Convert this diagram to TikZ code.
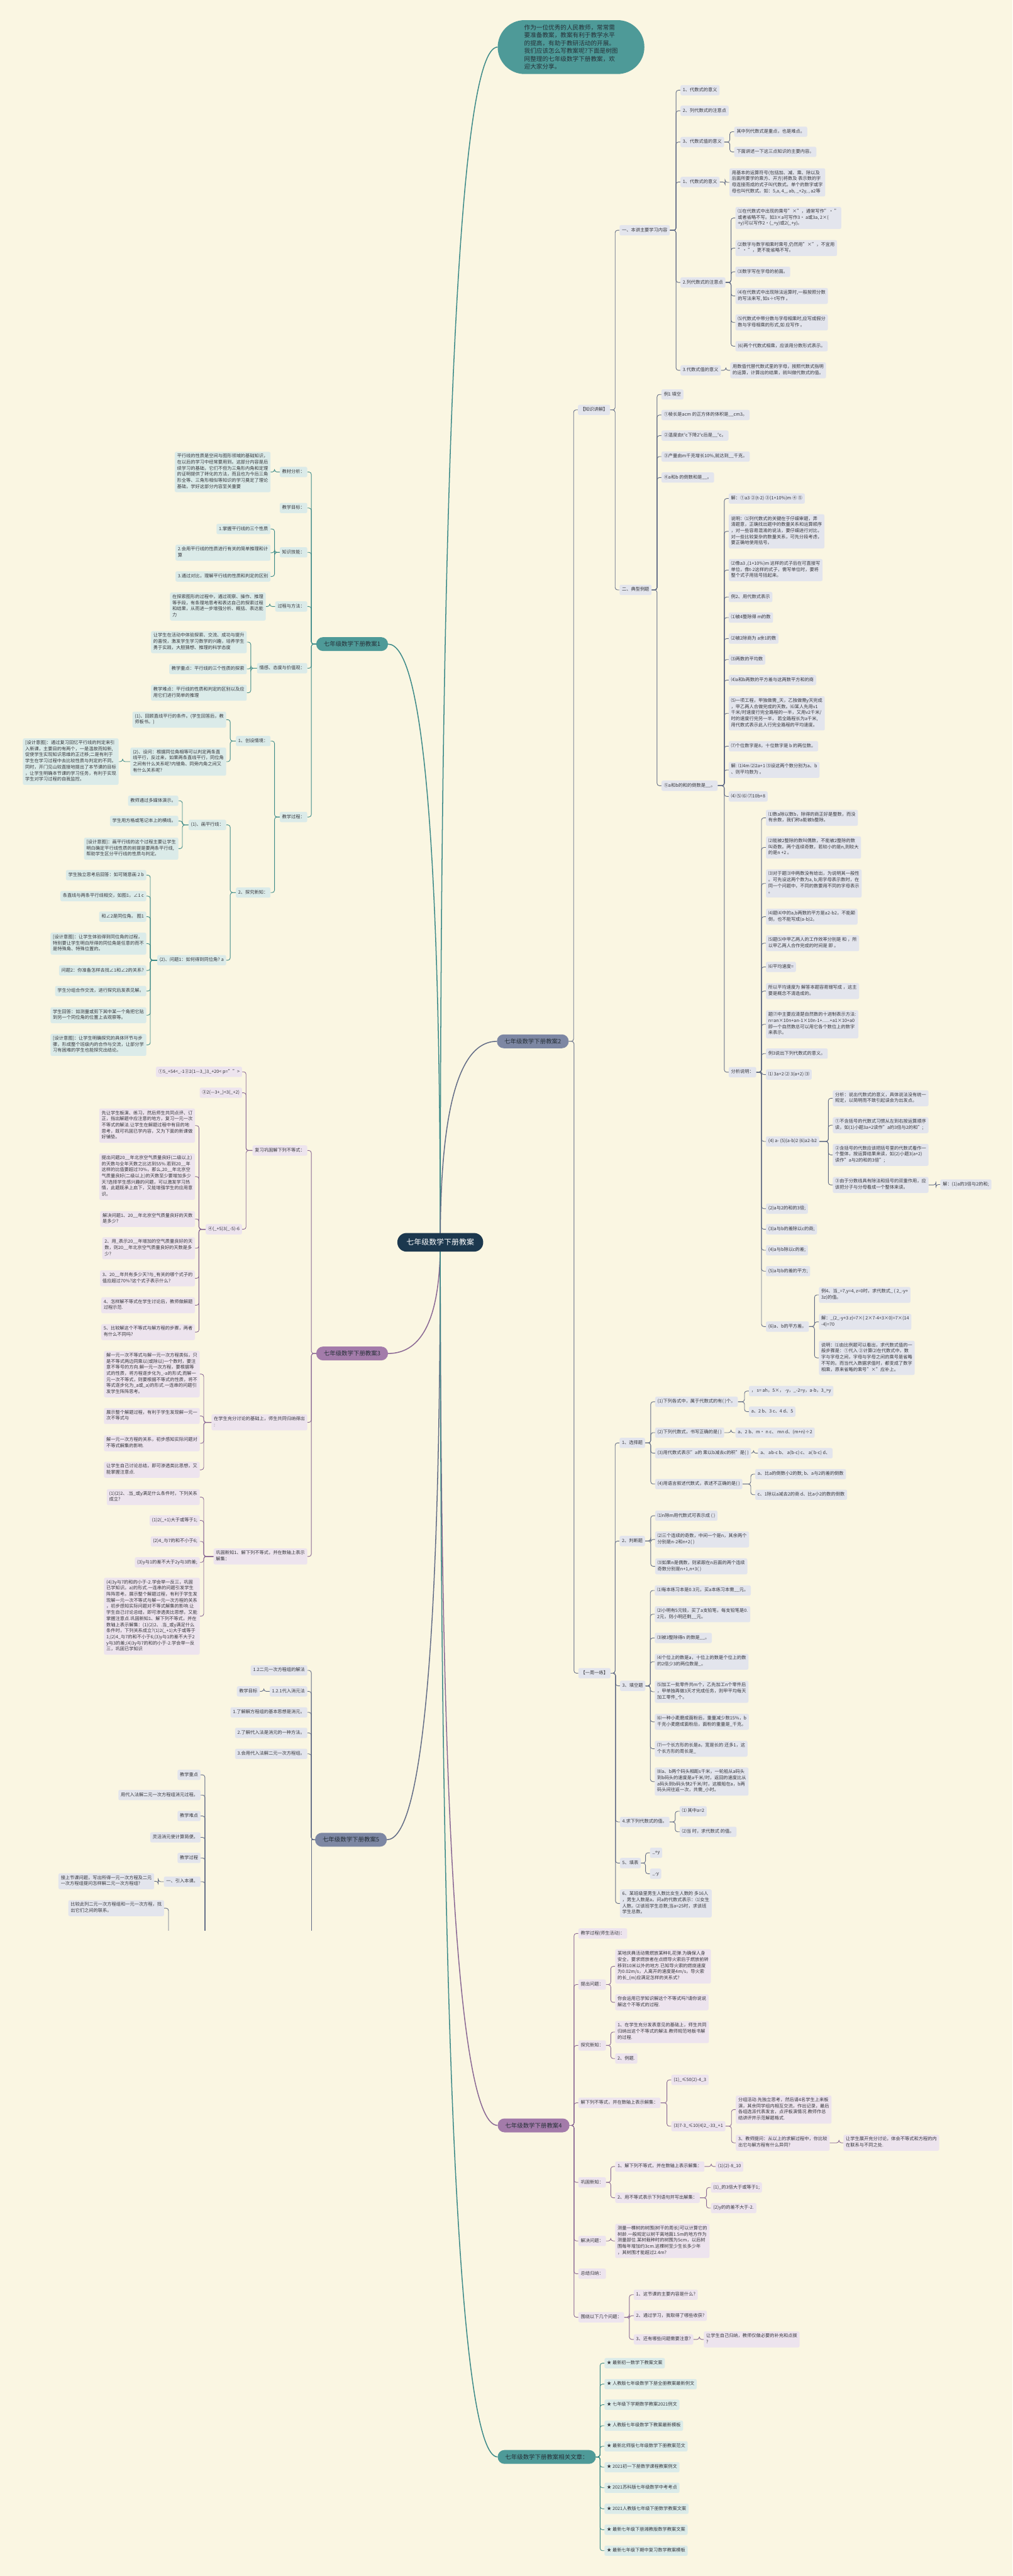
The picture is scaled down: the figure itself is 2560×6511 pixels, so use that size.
\documentclass[tikz,border=0pt]{standalone}
\usepackage{fontspec}
\setmainfont{Noto Sans CJK SC}
\usetikzlibrary{calc}
\definecolor{bgc}{RGB}{250,246,226}
\definecolor{navy}{RGB}{28,56,78}
\definecolor{tealB}{RGB}{78,154,152}
\definecolor{tealL}{RGB}{219,235,233}
\definecolor{tealE}{RGB}{60,138,136}
\definecolor{greyB}{RGB}{125,135,163}
\definecolor{greyL}{RGB}{227,229,237}
\definecolor{greyE}{RGB}{98,108,134}
\definecolor{purB}{RGB}{163,123,170}
\definecolor{purL}{RGB}{237,228,238}
\definecolor{purE}{RGB}{138,104,148}
\definecolor{txt}{RGB}{55,55,60}
\definecolor{btxt}{RGB}{38,48,56}
\pgfdeclarelayer{back}
\pgfdeclarelayer{lines}
\pgfsetlayers{back,lines,main}
\newcommand\linkR[3]{\draw[#1] let \p1=(#2.east), \p2=(#3.west) in (\p1) -- (\x2-11pt,\y1) |- (\p2);}
\newcommand\linkL[3]{\draw[#1] let \p1=(#2.west), \p2=(#3.east) in (\p1) -- (\x2+10pt,\y1) |- (\p2);}
\newcommand\mcurve[3]{\draw[#1] (#2.center) .. controls ($(#2.center)!0.667!(#2.center|-#3)$) and ($(#3)!0.667!(#2.center|-#3)$) .. (#3);}
\begin{document}
\begin{tikzpicture}[x=1pt,y=-1pt,
 leaf/.style={rounded corners=4pt, inner xsep=6pt, inner ysep=5.3pt, font=\fontsize{11.5}{15.4}\selectfont, text=txt, align=left, execute at begin node=\strut, execute at end node=\strut},
 lt/.style={leaf, fill=tealL}, lg/.style={leaf, fill=greyL}, lp/.style={leaf, fill=purL},
 branch/.style={rounded corners=17pt, minimum height=35pt, inner ysep=0pt, inner xsep=19pt, font=\fontsize{15}{18}\selectfont, text=btxt},
 bT/.style={branch, fill=tealB}, bG/.style={branch, fill=greyB}, bP/.style={branch, fill=purB},
 lkT/.style={draw=tealE, line width=1.4pt, rounded corners=6pt},
 lkG/.style={draw=greyE, line width=1.4pt, rounded corners=6pt},
 lkP/.style={draw=purE, line width=1.4pt, rounded corners=6pt},
 mT/.style={draw=tealE, line width=2.4pt},
 mG/.style={draw=greyE, line width=2.4pt},
 mP/.style={draw=purE, line width=2.4pt}]
\begin{pgfonlayer}{back}
\fill[bgc] (0,0) rectangle (2560,6511);
\end{pgfonlayer}
\useasboundingbox (0,0) rectangle (2560,6511);

% ---------- centre, note, branches
\node[fill=navy, text=white, rounded corners=23pt, minimum height=47pt, inner xsep=23pt, inner ysep=0pt, font=\fontsize{19}{22}\selectfont] (ctr) at (1113,3140) {七年级数学下册教案};
\node[fill=tealB, text=btxt, rounded corners=68pt, inner xsep=67pt, inner ysep=11pt, align=left, font=\fontsize{15.3}{20}\selectfont, anchor=west] (note) at (1258,119) {作为一位优秀的人民教师，常常需\\要准备教案，教案有利于教学水平\\的提高，有助于教研活动的开展。\\我们应该怎么写教案呢?下面是树图\\网整理的七年级数学下册教案，欢\\迎大家分享。};
\node[bT, anchor=east] (b1) at (981,1628) {七年级数学下册教案1};
\node[bG, anchor=west] (b2) at (1256,2632) {七年级数学下册教案2};
\node[bP, anchor=east] (b3) at (981,3421) {七年级数学下册教案3};
\node[bP, anchor=west] (b4) at (1258,5372) {七年级数学下册教案4};
\node[bG, anchor=east] (b5) at (978,4650) {七年级数学下册教案5};
\node[bT, anchor=west] (b6) at (1258,6210) {七年级数学下册教案相关文章：};

% ---------- 教案2
\node[lg,anchor=west] (zs) at (1461,1036) {【知识讲解】};
\node[lg,anchor=west] (yz) at (1462,4229) {【一周一练】};
\node[lg,anchor=west] (k1) at (1566,582) {一、本讲主要学习内容};
\node[lg,anchor=west] (k2) at (1566,1491) {二、典型例题};
\node[lg,anchor=west] (k1a) at (1720,228) {1、代数式的意义};
\node[lg,anchor=west] (k1b) at (1720,280) {2、列代数式的注意点};
\node[lg,anchor=west] (k1c) at (1720,359) {3、代数式值的意义};
\node[lg,anchor=west] (k1c1) at (1856,333) {其中列代数式是重点，也是难点。};
\node[lg,anchor=west] (k1c2) at (1856,384) {下面讲述一下这三点知识的主要内容。};
\node[lg,anchor=west] (k1d) at (1720,460) {1、代数式的意义};
\node[lg,anchor=west] (k1d1) at (1844,461) {用基本的运算符号(包括加、减、乘、除以及\\后面所要学的乘方、开方)将数及 表示数的字\\母连接而成的式子叫代数式。单个的数字或字\\母也叫代数式。如：5,a, 4\_, ab, \_+2y, , a2等};
\node[lg,anchor=west] (k1e) at (1720,714) {2.列代数式的注意点};
\node[lg,anchor=west] (k1e1) at (1859,551) {⑴在代数式中出现的乘号"×"，通常写作"· "\\或者省略不写。如3×a可写作3· a或3a, 2×(\\+y)可以写作2·(\_+y)或2(\_+y)。};
\node[lg,anchor=west] (k1e2) at (1859,627) {⑵数字与数字相乘时乘号,仍然用"×"，不宜用\\"· "，更不能省略不写。};
\node[lg,anchor=west] (k1e3) at (1859,687) {⑶数字写在字母的前面。};
\node[lg,anchor=west] (k1e4) at (1859,748) {⑷在代数式中出现除法运算时,一般按照分数\\的写法来写, 如s÷t写作 。};
\node[lg,anchor=west] (k1e5) at (1859,815) {⑸代数式中带分数与字母相乘时,应写成假分\\数与字母相乘的形式,如 应写作 。};
\node[lg,anchor=west] (k1e6) at (1859,875) {(6)两个代数式相乘，应该用分数形式表示。};
\node[lg,anchor=west] (k1f) at (1720,936) {3.代数式值的意义};
\node[lg,anchor=west] (k1f1) at (1846,936) {用数值代替代数式里的字母，按照代数式指明\\的运算，计算出的结果，就叫做代数式的值。};

\node[lg,anchor=west] (k2a) at (1672,997) {例1 填空};
\node[lg,anchor=west] (k2b) at (1672,1049) {①棱长是acm 的正方体的体积是\_\_cm3。};
\node[lg,anchor=west] (k2c) at (1672,1101) {②温度由t°c下降2°c后是\_\_°c。};
\node[lg,anchor=west] (k2d) at (1672,1154) {③产量由m千克增长10\%,就达到\_\_千克。};
\node[lg,anchor=west] (k2e) at (1672,1207) {④a和b 的倒数和是\_\_。};
\node[lg,anchor=west] (k2f) at (1672,1986) {⑤a和b的和的倒数是\_\_。};

\node[lg,anchor=west] (f1) at (1842,1260) {解：①a3 ②(t-2) ③(1+10\%)m ④ ⑤};
\node[lg,anchor=west] (f2) at (1842,1343) {说明：⑴列代数式的关键在于仔细审题，弄\\清题意，正确找出题中的数量关系和运算顺序\\，对一些容易混淆的说法，要仔细进行对比，\\对一些比较复杂的数量关系，可先分段考虑，\\要正确地使用括号。};
\node[lg,anchor=west] (f3) at (1842,1441) {⑵像a3 ,(1+10\%)m 这样的式子后在可直接写\\单位，像t-2这样的式子，需写单位时，要将\\整个式子用括号括起来。};
\node[lg,anchor=west] (f4) at (1842,1509) {例2、用代数式表示};
\node[lg,anchor=west] (f5) at (1842,1561) {⑴被4整除得 m的数};
\node[lg,anchor=west] (f6) at (1842,1614) {⑵被2除商为 a余1的数};
\node[lg,anchor=west] (f7) at (1842,1667) {⑶两数的平均数};
\node[lg,anchor=west] (f8) at (1842,1719) {⑷a和b两数的平方差与这两数平方和的商};
\node[lg,anchor=west] (f9) at (1842,1803) {⑸一项工程，甲独做需\_天，乙独做需y天完成\\，甲乙两人合做完成的天数。⑹某人先用v1\\千米/时速度行完全路程的一半，又用v2千米/\\时的速度行完另一半， 若全路程长为a千米,\\用代数式表示此人行完全路程的平均速度。};
\node[lg,anchor=west] (f10) at (1842,1886) {⑺个位数字是8，十位数字是 b 的两位数。};
\node[lg,anchor=west] (f11) at (1842,1946) {解: ⑴4m ⑵2a+1 ⑶设这两个数分别为a、b\\、则平均数为 。};
\node[lg,anchor=west] (f12) at (1842,2013) {⑷ ⑸ ⑹ ⑺10b+8};
\node[lg,anchor=west] (f13) at (1842,2710) {分析说明：};

\node[lg,anchor=west] (g1) at (1936,2067) {⑴数a除以数b，除得的商正好是整数，而没\\有余数，我们称a能被b整除。};
\node[lg,anchor=west] (g2) at (1936,2142) {⑵能被2整除的数叫偶数，不能被2整除的数\\叫奇数。两个连续奇数，若较小的是n,则较大\\的是n +2 。};
\node[lg,anchor=west] (g3) at (1936,2233) {⑶对于题⑶中两数没有给出，为说明其一般性\\。可先设这两个数为a, b;用字母表示数时，在\\同一个问题中，不同的数要用不同的字母表示\\。};
\node[lg,anchor=west] (g4) at (1936,2317) {⑷题⑷中的a,b两数的平方是a2-b2，不能颠\\倒，也不能写成(a-b)2。};
\node[lg,anchor=west] (g5) at (1936,2384) {⑸题⑸中甲乙两人的工作效率分别是 和 ，所\\以甲乙两人合作完成的时间是 即 。};
\node[lg,anchor=west] (g6) at (1936,2444) {⑹平均速度=};
\node[lg,anchor=west] (g7) at (1936,2505) {所以平均速度为 解答本题容易错写成 ，这主\\要是概念不清造成的。};
\node[lg,anchor=west] (g8) at (1936,2589) {题⑺中主要应清楚自然数的十进制表示方法:\\ n=an×10n+an-1×10n-1+......+a1×10+a0\\ 即一个自然数总可以用它各个数位上的数字\\来表示。};
\node[lg,anchor=west] (g9) at (1936,2663) {例3说出下列代数式的意义。};
\node[lg,anchor=west] (g10) at (1936,2716) {⑴ 3a+2 ⑵ 3(a+2) ⑶};
\node[lg,anchor=west] (g11) at (1936,2885) {(4) a- (5)(a-b)2 (6)a2-b2};
\node[lg,anchor=west] (h1) at (2105,2776) {分析：说出代数式的意义，具体说法没有统一\\规定，以简明而不致引起误会为出发点。};
\node[lg,anchor=west] (h2) at (2105,2844) {①不含括号的代数式习惯从左到右按运算顺序\\读，如(1)小题3a+2读作"a的3倍与2的和";};
\node[lg,anchor=west] (h3) at (2105,2919) {②含括号的代数应该把括号里的代数式看作一\\个整体，按运算结果来读，如(2)小题3(a+2)\\读作"a与2的和的3倍";};
\node[lg,anchor=west] (h4) at (2105,2995) {③由于分数线具有除法和括号的双重作用，应\\该把分子与分母看成一个整体来读。};
\node[lg,anchor=west] (h4a) at (2377,2994) {解：(1)a的3倍与2的和;};
\node[lg,anchor=west] (g12) at (1936,3055) {(2)a与2的和的3倍;};
\node[lg,anchor=west] (g13) at (1936,3107) {(3)a与b的差除以c的商;};
\node[lg,anchor=west] (g14) at (1936,3160) {(4)a与b除以c的差;};
\node[lg,anchor=west] (g15) at (1936,3213) {(5)a与b的差的平方;};
\node[lg,anchor=west] (g16) at (1936,3353) {(6)a、b的平方差。};
\node[lg,anchor=west] (i1) at (2070,3273) {例4、当\_=7,y=4, z=0时，求代数式\_ ( 2\_-y+\\3z)的值。};
\node[lg,anchor=west] (i2) at (2070,3341) {解：\_(2\_-y+3 z)=7×( 2×7-4+3×0)=7×(14\\-4)=70};
\node[lg,anchor=west] (i3) at (2070,3432) {说明：⑴由比例题可以看出，求代数式值的一\\般步骤是：①代入 ②计算⑵在代数式中，数\\字与字母之间，字母与字母之间的乘号是省略\\不写的。而当代入数据求值时，都变成了数字\\相乘，原来省略的乘号"×"应补上。};

\node[lg,anchor=west] (y1) at (1566,3647) {1、选择题};
\node[lg,anchor=west] (y1a) at (1656,3543) {(1)下列各式中，属于代数式的有( )个。};
\node[lg,anchor=west] (y1a1) at (1893,3516) {， s= ah，5×， -y，\_-2=y，a-b，3\_>y};
\node[lg,anchor=west] (y1a2) at (1893,3568) {a、2 b、3 c、4 d、5};
\node[lg,anchor=west] (y1b) at (1656,3621) {(2)下列代数式，书写正确的是( )};
\node[lg,anchor=west] (y1b1) at (1859,3621) {a、2 b、m· n c、 mn d、(m+n)÷2};
\node[lg,anchor=west] (y1c) at (1656,3673) {(3)用代数式表示"a的 乘以b减去c的积"是( )};
\node[lg,anchor=west] (y1c1) at (1916,3673) {a、 ab-c b、 a(b-c) c、 a( b-c) d、};
\node[lg,anchor=west] (y1d) at (1656,3751) {(4)用语言叙述代数式，表述不正确的是( )};
\node[lg,anchor=west] (y1d1) at (1909,3726) {a、比a的倒数小2的数; b、a与2的差的倒数};
\node[lg,anchor=west] (y1d2) at (1909,3778) {c、1除以a减去2的商 d、比a小2的数的倒数};
\node[lg,anchor=west] (y2) at (1566,3895) {2、判断题};
\node[lg,anchor=west] (y2a) at (1656,3831) {⑴n除m用代数式可表示成 ( )};
\node[lg,anchor=west] (y2b) at (1656,3891) {⑵三个连续的奇数，中间一个是n，其余两个\\分别是n-2和n+2( )};
\node[lg,anchor=west] (y2c) at (1656,3959) {⑶如果n是偶数，则紧跟在n后面的两个连续\\奇数分别是n+1,n+3( )};
\node[lg,anchor=west] (y3) at (1567,4261) {3、填空题};
\node[lg,anchor=west] (y3a) at (1655,4020) {⑴每本练习本是0.3元，买a本练习本需\_\_元。};
\node[lg,anchor=west] (y3b) at (1655,4080) {⑵小明有5元钱，买了a支铅笔，每支铅笔是0.\\2元，则小明还剩\_\_元。};
\node[lg,anchor=west] (y3c) at (1655,4140) {⑶被3整除得n 的数是\_\_。};
\node[lg,anchor=west] (y3d) at (1655,4200) {⑷个位上的数是a，十位上的数是个位上的数\\的2倍少3的两位数是\_。};
\node[lg,anchor=west] (y3e) at (1655,4276) {⑸加工一批零件共m个，乙先加工n个零件后\\，甲单独再做3天才完成任务，则甲平均每天\\加工零件\_个。};
\node[lg,anchor=west] (y3f) at (1655,4352) {⑹一种小麦磨成面粉后，重量减少数15\%，b\\千克小麦磨成面粉后，面粉的重量是\_千克。};
\node[lg,anchor=west] (y3g) at (1655,4420) {⑺一个长方形的长是a，宽是长的 还多1，这\\个长方形的周长是\_};
\node[lg,anchor=west] (y3h) at (1655,4503) {⑻a、b两个码头相距s千米，一轮船从a码头\\到b码头的速度是a千米/时，返回的速度比从\\a码头到b码头快2千米/时，这艘船在a，b两\\码头间往返一次，共需\_小时。};
\node[lg,anchor=west] (y4) at (1567,4605) {4.求下列代数式的值。};
\node[lg,anchor=west] (y4a) at (1718,4578) {⑴ 其中a=2};
\node[lg,anchor=west] (y4b) at (1718,4630) {⑵当 时，求代数式 的值。};
\node[lg,anchor=west] (y5) at (1567,4709) {5、填表};
\node[lg,anchor=west] (y5a) at (1643,4683) {\_+y};
\node[lg,anchor=west] (y5b) at (1643,4736) {\_-y};
\node[lg,anchor=west] (y6) at (1567,4811) {6、某班级里男生人数比女生人数的 多16人\\，男生人数是a，问a的代数式表示：⑴女生\\人数。⑵该班学生总数;当a=25时，求该班\\学生总数。};

% ---------- 教案4
\node[lp,anchor=west] (r1) at (1462,4887) {教学过程(师生活动)：};
\node[lp,anchor=west] (r2) at (1462,5016) {提出问题：};
\node[lp,anchor=west] (r2a) at (1555,4970) {某地庆典活动需燃放某种礼花弹.为确保人身\\安全，要求燃放者在点燃导火索后于燃放前转\\移到10米以外的地方.已知导火索的燃烧速度\\为0.02m/s，人离开的速度是4m/s，导火索\\的长\_(m)应满足怎样的关系式?};
\node[lp,anchor=west] (r2b) at (1555,5061) {你会运用已学知识解这个不等式吗?请你说说\\解这个不等式的过程.};
\node[lp,anchor=west] (r3) at (1462,5170) {探究新知：};
\node[lp,anchor=west] (r3a) at (1555,5136) {1、在学生充分发表意见的基础上，师生共同\\归纳出这个不等式的解法.教师规范地板书解\\的过程.};
\node[lp,anchor=west] (r3b) at (1555,5203) {2、例题.};
\node[lp,anchor=west] (r4) at (1462,5315) {解下列不等式，并在数轴上表示解集：};
\node[lp,anchor=west] (r4a) at (1697,5257) {(1)\_≤50(2)-4\_3};
\node[lp,anchor=west] (r4b) at (1697,5374) {(3)7-3\_≤10(4)2\_-33\_+1};
\node[lp,anchor=west] (r4b1) at (1860,5332) {分组活动.先独立思考，然后请4名学生上来板\\演，其余同学组内相互交流，作出记录，最后\\各组选派代表发言，点评板演情况.教师作总\\结讲评并示范解题格式.};
\node[lp,anchor=west] (r4b2) at (1860,5416) {3、教师提问：从以上的求解过程中，你比较\\出它与解方程有什么异同?};
\node[lp,anchor=west] (r4b2a) at (2132,5416) {让学生展开充分讨论，体会不等式和方程的内\\在联系与不同之处.};
\node[lp,anchor=west] (r5) at (1462,5516) {巩固新知：};
\node[lp,anchor=west] (r5a) at (1555,5476) {1、解下列不等式，并在数轴上表示解集：};
\node[lp,anchor=west] (r5a1) at (1809,5476) {(1)(2)-8\_10};
\node[lp,anchor=west] (r5b) at (1555,5555) {2、用不等式表示下列语句并写出解集：};
\node[lp,anchor=west] (r5b1) at (1797,5529) {(1)\_的3倍大于或等于1;};
\node[lp,anchor=west] (r5b2) at (1797,5581) {(2)y的的差不大于-2.};
\node[lp,anchor=west] (r6) at (1462,5664) {解决问题：};
\node[lp,anchor=west] (r6a) at (1555,5664) {测量一棵树的树围(树干的周长)可以计算它的\\树龄.一般规定以树干离地面1.5m的地方作为\\测量部位.某树栽种时的树围为5cm，以后树\\围每年增加约3cm.这棵树至少生长多少年\\，其树围才能超过2.4m?};
\node[lp,anchor=west] (r7) at (1462,5747) {总结归纳：};
\node[lp,anchor=west] (r8) at (1462,5857) {围绕以下几个问题：};
\node[lp,anchor=west] (r8a) at (1602,5800) {1、这节课的主要内容是什么?};
\node[lp,anchor=west] (r8b) at (1602,5853) {2、通过学习，我取得了哪些收获?};
\node[lp,anchor=west] (r8c) at (1602,5913) {3、还有哪些问题需要注意?};
\node[lp,anchor=west] (r8c1) at (1779,5913) {让学生自己归纳，教师仅做必要的补充和点拨\\?};

% ---------- 相关文章
\node[lt,anchor=west] (s1) at (1528,5973) {★ 最新初一数学下教案文案};
\node[lt,anchor=west] (s2) at (1528,6026) {★ 人教版七年级数学下册全册教案最新例文};
\node[lt,anchor=west] (s3) at (1528,6078) {★ 七年级下学期数学教案2021例文};
\node[lt,anchor=west] (s4) at (1528,6131) {★ 人教版七年级数学下教案最新模板};
\node[lt,anchor=west] (s5) at (1528,6183) {★ 最新北师版七年级数学下册教案范文};
\node[lt,anchor=west] (s6) at (1528,6236) {★ 2021初一下册数学课程教案例文};
\node[lt,anchor=west] (s7) at (1528,6288) {★ 2021苏科版七年级数学中考考点};
\node[lt,anchor=west] (s8) at (1528,6341) {★ 2021人教版七年级下册数学教案文案};
\node[lt,anchor=west] (s9) at (1528,6394) {★ 最新七年级下册湘教版数学教案文案};
\node[lt,anchor=west] (s10) at (1528,6447) {★ 最新七年级下期中复习数学教案模板};

% ---------- 教案1
\node[lt,anchor=east] (t1) at (777,1193) {教材分析：};
\node[lt,anchor=east] (t1a) at (684,1193) {平行线的性质是空间与图形领域的基础知识，\\在以后的学习中经常要用到。这部分内容是后\\续学习的基础，它们不但为三角形内角和定理\\的证明提供了转化的方法，而且也为今后三角\\形全等、三角形相似等知识的学习奠定了理论\\基础，学好这部分内容至关重要};
\node[lt,anchor=east] (t2) at (777,1284) {教学目标：};
\node[lt,anchor=east] (t3) at (777,1396) {知识技能：};
\node[lt,anchor=east] (t3a) at (684,1337) {1.掌握平行线的三个性质};
\node[lt,anchor=east] (t3b) at (684,1397) {2.会用平行线的性质进行有关的简单推理和计\\算};
\node[lt,anchor=east] (t3c) at (684,1457) {3.通过对比，理解平行线的性质和判定的区别};
\node[lt,anchor=east] (t4) at (777,1533) {过程与方法：};
\node[lt,anchor=east] (t4a) at (672,1533) {在探索图形的过程中，通过观察、操作、推理\\等手段，有条理地思考和表达自己的探索过程\\和结果，从而进一步增强分析、概括、表达能\\力};
\node[lt,anchor=east] (t5) at (777,1689) {情感、态度与价值观：};
\node[lt,anchor=east] (t5a) at (624,1623) {让学生在活动中体验探索、交流、成功与提升\\的喜悦，激发学生学习数学的兴趣，培养学生\\勇于实践，大胆猜想、推理的科学态度};
\node[lt,anchor=east] (t5b) at (624,1691) {教学重点：平行线的三个性质的探索};
\node[lt,anchor=east] (t5c) at (624,1751) {教学难点：平行线的性质和判定的区别以及应\\用它们进行简单的推理};
\node[lt,anchor=east] (t6) at (777,2065) {教学过程：};
\node[lt,anchor=east] (t6a) at (684,1873) {1、创设情境：};
\node[lt,anchor=east] (t6a1) at (572,1819) {(1)、回顾直线平行的条件。(学生回答后，教\\师板书。)};
\node[lt,anchor=east] (t6a2) at (572,1925) {(2)、设问：根据同位角相等可以判定两条直\\线平行，反过来，如果两条直线平行，同位角\\之间有什么关系呢?内错角、同旁内角之间又\\有什么关系呢?};
\node[lt,anchor=east] (t6a2a) at (300,1925) {[设计意图]：通过复习回忆平行线的判定来引\\入新课，主要目的有两个，一是温故而知新,\\促使学生实现知识思维的正迁移;二是有利于\\学生在学习过程中去比较性质与判定的不同。\\同时，开门见山较直接地提出了本节课的目标\\，让学生明确本节课的学习任务，有利于实现\\学生对学习过程的自我监控。};
\node[lt,anchor=east] (t6b) at (684,2256) {2、探究新知：};
\node[lt,anchor=east] (t6b1) at (572,2085) {(1)、画平行线：};
\node[lt,anchor=east] (t6b1a) at (451,2024) {教师通过多媒体演示。};
\node[lt,anchor=east] (t6b1b) at (451,2075) {学生用方格或笔记本上的横线。};
\node[lt,anchor=east] (t6b1c) at (451,2145) {[设计意图]：画平行线的这个过程主要让学生\\明白确定平行线性质的前提是要两条平行线,\\帮助学生区分平行线的性质与判定。};
\node[lt,anchor=east] (t6b2) at (572,2427) {(2)、问题1：如何得到同位角? a};
\node[lt,anchor=east] (t6b2a) at (370,2212) {学生独立思考后回答：如可随意画 2 b};
\node[lt,anchor=east] (t6b2b) at (370,2265) {条直线与两条平行线相交，如图1，∠1 c};
\node[lt,anchor=east] (t6b2c) at (370,2317) {和∠2是同位角。 图1};
\node[lt,anchor=east] (t6b2d) at (370,2385) {[设计意图]：让学生体验得到同位角的过程，\\特别要让学生明白所得的同位角是任意的而不\\是特殊角、特殊位置的。};
\node[lt,anchor=east] (t6b2e) at (370,2453) {问题2：你准备怎样去找∠1和∠2的关系?};
\node[lt,anchor=east] (t6b2f) at (370,2505) {学生分组合作交流，进行探究后发表见解。};
\node[lt,anchor=east] (t6b2g) at (370,2566) {学生回答：如测量或剪下其中某一个角把它贴\\到另一个同位角的位置上去观察等。};
\node[lt,anchor=east] (t6b2h) at (370,2641) {[设计意图]：让学生明确探究的具体环节与步\\骤，形成整个班级内的合作与交流，让部分学\\习有困难的学生也能探究出结论。};

% ---------- 教案3
\node[lp,anchor=east] (p1) at (777,2908) {复习巩固解下列不等式：};
\node[lp,anchor=east] (p1a) at (612,2709) {①5\_+54<\_-1②2(1—3\_)3\_+20< p="">};
\node[lp,anchor=east] (p1b) at (612,2762) {③2(—3+\_)<3(\_+2)};
\node[lp,anchor=east] (p1c) at (612,3107) {④(\_+5)3(\_-5)-6};
\node[lp,anchor=east] (p1c1) at (493,2845) {先让学生板演、练习，然后师生共同点评、订\\正，指出解题中应注意的地方，复习一元一次\\不等式的解法.让学生在解题过程中有目的地\\思考，既可巩固已学内容，又为下面的新课做\\好铺垫。};
\node[lp,anchor=east] (p1c2) at (493,2974) {提出问题20\_\_年北京空气质量良好(二级以上)\\的天数与全年天数之比达到55\%.若到20\_\_年\\这样的比值要超过70\%，那么,20\_\_年北京空\\气质量良好(二级以上)的天数至少要增加多少\\天?选择学生感兴趣的问题，可以激发学习热\\情，此题既承上启下，又能增强学生的应用意\\识。};
\node[lp,anchor=east] (p1c3) at (493,3081) {解决问题1、20\_\_年北京空气质量良好的天数\\是多少?};
\node[lp,anchor=east] (p1c4) at (493,3155) {2、用\_表示20\_\_年增加的空气质量良好的天\\数，则20\_\_年北京空气质量良好的天数是多\\少?};
\node[lp,anchor=east] (p1c5) at (493,3231) {3、20\_\_年共有多少天?与\_有关的哪个式子的\\值应超过70\%?这个式子表示什么?};
\node[lp,anchor=east] (p1c6) at (493,3299) {4、怎样解不等式在学生讨论后，教师做解题\\过程示范.};
\node[lp,anchor=east] (p1c7) at (493,3367) {5、比较解这个不等式与解方程的步骤，两者\\有什么不同吗?};
\node[lp,anchor=east] (p2) at (777,3595) {在学生充分讨论的基础上，师生共同归纳得出\\:};
\node[lp,anchor=east] (p2a) at (505,3473) {解一元一次不等式与解一元一次方程类似，只\\是不等式两边同乘以(或除以)一个数时，要注\\意不等号的方向.解一元一次方程，要根据等\\式的性质，将方程逐步化为\_-a的形式;而解一\\元一次不等式，则要根据不等式的性质，将不\\等式逐步化为\_a或\_a)的形式.一连串的问题引\\发学生阵阵思考。};
\node[lp,anchor=east] (p2b) at (505,3579) {展示整个解题过程，有利于学生发现解一元一\\次不等式与};
\node[lp,anchor=east] (p2c) at (505,3648) {解一元一次方程的关系，初步感知实际问题对\\不等式解集的影响.};
\node[lp,anchor=east] (p2d) at (505,3715) {让学生自己讨论总结，即可渗透类比思想，又\\能掌握注意点.};
\node[lp,anchor=east] (p3) at (777,3934) {巩固新知1、解下列不等式，并在数轴上表示\\解集：};
\node[lp,anchor=east] (p3a) at (505,3784) {(1)(2)2、.当\_或y满足什么条件时，下列关系\\成立?};
\node[lp,anchor=east] (p3b) at (505,3843) {(1)2(\_+1)大于或等于1;};
\node[lp,anchor=east] (p3c) at (505,3896) {(2)4\_与7的和不小于6;};
\node[lp,anchor=east] (p3d) at (505,3949) {(3)y与1的差不大于2y与3的差;};
\node[lp,anchor=east] (p3e) at (505,4085) {(4)3y与7的和的小于-2.学会举一反三，巩固\\已学知识。a)的形式.一连串的问题引发学生\\阵阵思考。展示整个解题过程，有利于学生发\\现解一元一次不等式与解一元一次方程的关系\\，初步感知实际问题对不等式解集的影响.让\\学生自己讨论总结，即可渗透类比思想，又能\\掌握注意点.巩固新知1、解下列不等式，并在\\数轴上表示解集：(1)(2)2、.当\_或y满足什么\\条件时，下列关系成立?(1)2(\_+1)大于或等于\\1;(2)4\_与7的和不小于6;(3)y与1的差不大于2\\y与3的差;(4)3y与7的和的小于-2.学会举一反\\三，巩固已学知识};

% ---------- 教案5 (visible part)
\node[lg,anchor=east] (q1) at (777,4222) {1.2二元一次方程组的解法};
\node[lg,anchor=east] (q2) at (777,4275) {1.2.1代入消元法};
\node[lg,anchor=east] (q2a) at (657,4275) {教学目标};
\node[lg,anchor=east] (q3) at (777,4328) {1.了解解方程组的基本思想是消元。};
\node[lg,anchor=east] (q4) at (777,4380) {2.了解代入法是消元的一种方法。};
\node[lg,anchor=east] (q5) at (777,4433) {3.会用代入法解二元一次方程组。};
\node[lg,anchor=east] (q6a) at (507,4486) {教学重点};
\node[lg,anchor=east] (q6b) at (507,4537) {用代入法解二元一次方程组消元过程。};
\node[lg,anchor=east] (q6c) at (507,4590) {教学难点};
\node[lg,anchor=east] (q6d) at (507,4644) {灵活消元使计算简便。};
\node[lg,anchor=east] (q6e) at (507,4696) {教学过程};
\node[lg,anchor=east] (q6f) at (507,4756) {一、引入本课。};
\node[lg,anchor=east] (q6f1) at (390,4755) {接上节课问题，写出所得一元一次方程及二元\\一次方程组提问怎样解二元一次方程组?};
\node[lg,anchor=east] (q7a) at (415,4823) {比较此列二元一次方程组和一元一次方程，找\\出它们之间的联系。};
\coordinate (b5down) at (788,4880);
\coordinate (q6down) at (518,4880);
\coordinate (q7down) at (426,4880);

% ---------- connectors
\begin{pgfonlayer}{lines}
\mcurve{mT}{ctr}{note.west}
\mcurve{mT}{ctr}{b1.east}
\mcurve{mG}{ctr}{b2.west}
\mcurve{mP}{ctr}{b3.east}
\mcurve{mP}{ctr}{b4.west}
\mcurve{mG}{ctr}{b5.east}
\mcurve{mT}{ctr}{b6.west}
\foreach \c in {zs,yz} {\linkR{lkG}{b2}{\c}}
\foreach \c in {k1,k2} {\linkR{lkG}{zs}{\c}}
\foreach \c in {k1a,k1b,k1c,k1d,k1e,k1f} {\linkR{lkG}{k1}{\c}}
\foreach \c in {k1c1,k1c2} {\linkR{lkG}{k1c}{\c}}
\linkR{lkG}{k1d}{k1d1}
\foreach \c in {k1e1,k1e2,k1e3,k1e4,k1e5,k1e6} {\linkR{lkG}{k1e}{\c}}
\linkR{lkG}{k1f}{k1f1}
\foreach \c in {k2a,k2b,k2c,k2d,k2e,k2f} {\linkR{lkG}{k2}{\c}}
\foreach \c in {f1,f2,f3,f4,f5,f6,f7,f8,f9,f10,f11,f12,f13} {\linkR{lkG}{k2f}{\c}}
\foreach \c in {g1,g2,g3,g4,g5,g6,g7,g8,g9,g10,g11,g12,g13,g14,g15,g16} {\linkR{lkG}{f13}{\c}}
\foreach \c in {h1,h2,h3,h4} {\linkR{lkG}{g11}{\c}}
\linkR{lkG}{h4}{h4a}
\foreach \c in {i1,i2,i3} {\linkR{lkG}{g16}{\c}}
\foreach \c in {y1,y2,y3,y4,y5,y6} {\linkR{lkG}{yz}{\c}}
\foreach \c in {y1a,y1b,y1c,y1d} {\linkR{lkG}{y1}{\c}}
\foreach \c in {y1a1,y1a2} {\linkR{lkG}{y1a}{\c}}
\linkR{lkG}{y1b}{y1b1}
\linkR{lkG}{y1c}{y1c1}
\foreach \c in {y1d1,y1d2} {\linkR{lkG}{y1d}{\c}}
\foreach \c in {y2a,y2b,y2c} {\linkR{lkG}{y2}{\c}}
\foreach \c in {y3a,y3b,y3c,y3d,y3e,y3f,y3g,y3h} {\linkR{lkG}{y3}{\c}}
\foreach \c in {y4a,y4b} {\linkR{lkG}{y4}{\c}}
\foreach \c in {y5a,y5b} {\linkR{lkG}{y5}{\c}}
\foreach \c in {r1,r2,r3,r4,r5,r6,r7,r8} {\linkR{lkP}{b4}{\c}}
\foreach \c in {r2a,r2b} {\linkR{lkP}{r2}{\c}}
\foreach \c in {r3a,r3b} {\linkR{lkP}{r3}{\c}}
\foreach \c in {r4a,r4b} {\linkR{lkP}{r4}{\c}}
\foreach \c in {r4b1,r4b2} {\linkR{lkP}{r4b}{\c}}
\linkR{lkP}{r4b2}{r4b2a}
\foreach \c in {r5a,r5b} {\linkR{lkP}{r5}{\c}}
\linkR{lkP}{r5a}{r5a1}
\foreach \c in {r5b1,r5b2} {\linkR{lkP}{r5b}{\c}}
\linkR{lkP}{r6}{r6a}
\foreach \c in {r8a,r8b,r8c} {\linkR{lkP}{r8}{\c}}
\linkR{lkP}{r8c}{r8c1}
\foreach \c in {s1,s2,s3,s4,s5,s6,s7,s8,s9,s10} {\linkR{lkT}{b6}{\c}}
\foreach \c in {t1,t2,t3,t4,t5,t6} {\linkL{lkT}{b1}{\c}}
\linkL{lkT}{t1}{t1a}
\foreach \c in {t3a,t3b,t3c} {\linkL{lkT}{t3}{\c}}
\linkL{lkT}{t4}{t4a}
\foreach \c in {t5a,t5b,t5c} {\linkL{lkT}{t5}{\c}}
\foreach \c in {t6a,t6b} {\linkL{lkT}{t6}{\c}}
\foreach \c in {t6a1,t6a2} {\linkL{lkT}{t6a}{\c}}
\linkL{lkT}{t6a2}{t6a2a}
\foreach \c in {t6b1,t6b2} {\linkL{lkT}{t6b}{\c}}
\foreach \c in {t6b1a,t6b1b,t6b1c} {\linkL{lkT}{t6b1}{\c}}
\foreach \c in {t6b2a,t6b2b,t6b2c,t6b2d,t6b2e,t6b2f,t6b2g,t6b2h} {\linkL{lkT}{t6b2}{\c}}
\foreach \c in {p1,p2,p3} {\linkL{lkP}{b3}{\c}}
\foreach \c in {p1a,p1b,p1c} {\linkL{lkP}{p1}{\c}}
\foreach \c in {p1c1,p1c2,p1c3,p1c4,p1c5,p1c6,p1c7} {\linkL{lkP}{p1c}{\c}}
\foreach \c in {p2a,p2b,p2c,p2d} {\linkL{lkP}{p2}{\c}}
\foreach \c in {p3a,p3b,p3c,p3d,p3e} {\linkL{lkP}{p3}{\c}}
\foreach \c in {q1,q2,q3,q4,q5} {\linkL{lkG}{b5}{\c}}
\draw[lkG, rounded corners=0pt] (b5.west) -| (b5down);
\linkL{lkG}{q2}{q2a}
\linkL{lkG}{q6f}{q6f1}
\foreach \c in {q6a,q6b,q6c,q6d,q6e,q6f} {\draw[lkG] (\c.east) -| (q6down);}
\draw[lkG] (q7a.east) -| (q7down);
\end{pgfonlayer}
\end{tikzpicture}
\end{document}
